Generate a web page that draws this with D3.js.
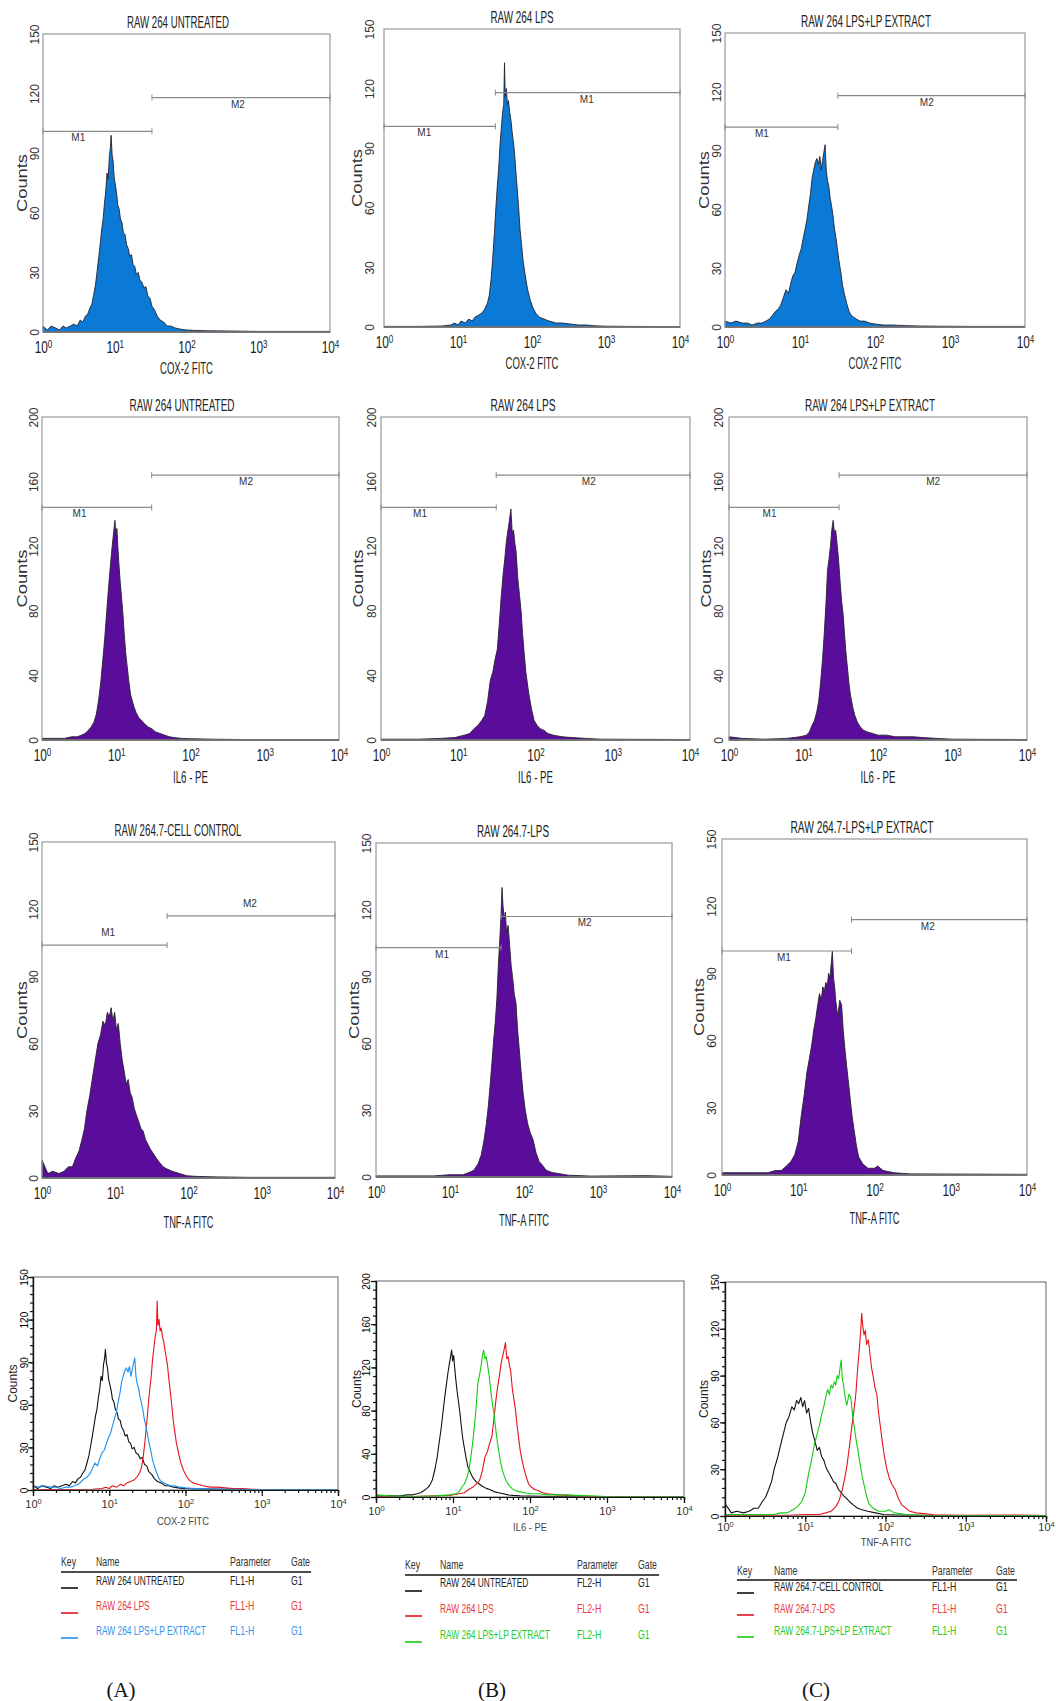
<!DOCTYPE html>
<html>
<head>
<meta charset="utf-8">
<script src="https://cdn.jsdelivr.net/npm/d3@7"></script>
<style>
body{margin:0;background:#fff}
svg{display:block}
</style>
</head>
<body>
<svg id="fig" width="1056" height="1701"></svg>
<script>
// histograms: [fluorescence, counts]
var coxUntreated=[[1,3],[1.15,1],[1.3,3],[1.5,2],[1.7,1],[1.9,3],[2.1,2],[2.4,3],[2.7,4],[3,3],[3.3,6],[3.6,5],[3.9,8],[4.2,9],[4.5,12],[4.8,14],[5.1,19],[5.4,24],[5.7,31],[6,38],[6.3,45],[6.6,52],[6.9,57],[7.2,65],[7.5,71],[7.8,80],[8.1,77],[8.4,88],[8.7,93],[8.9,99],[9.2,89],[9.5,86],[9.8,78],[10.2,74],[10.6,70],[11,64],[11.5,62],[12,57],[12.6,55],[13.2,50],[13.9,49],[14.6,44],[15.4,42],[16.2,38],[17.1,39],[18,34],[19,33],[20,29],[21.2,30],[22.5,26],[24,25],[25.5,22],[27,23],[29,18],[31,17],[33,13],[36,11],[39,8],[43,6],[48,5],[54,3],[60,3],[70,2],[80,1.5],[100,1],[130,0.8],[200,0.6],[400,0.5],[1000,0.3],[10000,0.3]];
var coxLps=[[1,0.3],[3,0.3],[6,0.5],[8,1],[9,2],[10,1],[11,3],[12.5,2],[14,4],[15.5,3],[17,5],[19,6],[21,7],[23,9],[25,12],[26.5,16],[28,24],[29.5,35],[31,47],[32.5,60],[34,71],[35.5,80],[37,92],[38.5,100],[40,108],[41.5,112],[42.5,133],[43.5,116],[45,120],[46.5,112],[48,114],[50,108],[52,104],[54,98],[56,93],[58,88],[60,80],[63,70],[66,60],[69,49],[72,42],[76,33],[81,26],[87,19],[94,14],[102,10],[112,7],[125,5],[145,4],[170,3],[210,2],[260,2],[330,1.5],[420,1],[550,1],[700,0.6],[1000,0.4],[2000,0.3],[10000,0.2]];
var coxExtract=[[1,3],[1.2,2],[1.4,3],[1.7,2],[2,2],[2.3,1],[2.7,2],[3.1,2],[3.5,3],[3.9,4],[4.3,6],[4.7,8],[5.1,9],[5.5,11],[6,15],[6.5,19],[7,17],[7.5,22],[8,26],[8.6,28],[9.2,33],[9.8,37],[10.4,40],[11,45],[11.7,50],[12.4,55],[13.1,62],[13.8,68],[14.5,76],[15.2,80],[16,84],[16.8,86],[17.6,83],[18.4,87],[19.2,80],[20,85],[20.8,89],[21.6,93],[22.4,80],[23.2,75],[24.2,72],[25.2,66],[26.3,62],[27.5,57],[28.8,50],[30,46],[31.5,40],[33,34],[35,28],[37,21],[39,17],[42,12],[45,8],[48,6],[52,5],[57,4],[63,3],[72,3],[85,2],[100,1.5],[130,1],[170,1],[250,0.7],[400,0.5],[700,0.4],[2000,0.3],[10000,0.3]];

var il6Untreated=[[1,1],[1.5,1],[2,1],[2.5,2],[3,2],[3.4,3],[3.8,4],[4.2,6],[4.6,8],[5,11],[5.4,16],[5.8,25],[6.2,36],[6.6,50],[7,63],[7.4,78],[7.8,92],[8.2,104],[8.6,115],[9,124],[9.3,130],[9.6,136],[9.9,126],[10.2,131],[10.5,120],[10.9,108],[11.3,98],[11.8,88],[12.3,78],[12.8,66],[13.4,54],[14,46],[14.8,36],[15.6,28],[16.5,24],[17.5,20],[18.5,17],[20,14],[22,12],[24,10],[27,8],[30,7],[34,5],[39,4],[45,3],[52,2],[60,1.5],[75,1],[100,0.8],[200,0.5],[500,0.3],[10000,0.3]];
var il6Lps=[[1,0.5],[3,0.5],[6,1],[9,1.5],[12,3],[14,4],[16,7],[18,9],[20,12],[22,15],[24,24],[26,37],[28,42],[30,50],[32,56],[34,72],[36,89],[38,102],[40,112],[42,123],[44,130],[46,136],[48,143],[50,128],[52,130],[54,122],[56,117],[59,100],[62,90],[65,80],[68,66],[71,55],[75,42],[79,34],[83,27],[89,19],[96,12],[105,9],[115,7],[128,6],[145,4],[170,3],[220,2],[300,1.5],[450,1],[700,0.5],[10000,0.3]];
var il6Extract=[[1,2],[1.5,1],[3,0.5],[6,1],[9,2],[11,3],[12,5],[13,9],[14,12],[15,17],[16,24],[17,36],[18,50],[19,66],[20,84],[21,105],[22,112],[23,120],[24,130],[25,136],[26,128],[27,130],[28,123],[29.5,112],[31,98],[32.5,86],[34,78],[35.5,66],[37,55],[39,44],[41,34],[43,27],[46,20],[49,15],[53,11],[58,8],[64,6],[72,5],[85,4],[100,3],[130,3],[170,2],[220,2],[300,2],[400,1.5],[600,1],[1000,0.5],[10000,0.3]];

var tnfUntreated=[[1,8],[1.2,2],[1.4,3],[1.7,2],[2,3],[2.3,5],[2.6,5],[2.9,9],[3.2,12],[3.5,17],[3.8,22],[4.1,30],[4.5,37],[4.9,45],[5.3,52],[5.8,60],[6.3,64],[6.8,70],[7.3,68],[7.8,74],[8.3,72],[8.8,76],[9.3,70],[9.8,74],[10.4,66],[11,69],[11.7,60],[12.4,53],[13.2,48],[14.1,42],[15,44],[16,38],[17,36],[18.2,31],[19.5,28],[21,25],[22.5,22],[24,21],[26,17],[28,15],[30,13],[33,11],[36,9],[40,7],[45,5],[51,4],[60,3],[75,2],[95,1],[130,0.7],[250,0.5],[600,0.3],[10000,0.3]];
var tnfLps=[[1,0.5],[3,0.5],[6,0.5],[10,1],[15,1],[18,2],[21,3],[24,6],[26.5,10],[29,17],[31,24],[33,32],[35,42],[37,52],[39,62],[41,70],[43,80],[45,95],[47,106],[49,118],[50.5,130],[52,122],[54,116],[56,119],[58,110],[61,113],[64,104],[67,95],[70,90],[74,82],[78,78],[82,66],[86,58],[91,48],[97,38],[104,30],[112,24],[121,20],[132,17],[145,11],[160,7],[180,5],[200,3],[240,2],[300,1.5],[400,0.8],[800,0.4],[4500,0.6],[10000,0.3]];
var tnfExtract=[[1,1],[2,1],[3,1],[4,1],[5,2],[6,2],[7,4],[8,6],[9,9],[10,15],[11,27],[12,36],[13,46],[14,52],[15,58],[16,65],[17,70],[18,76],[19,81],[20,78],[21,84],[22,82],[23,86],[24,84],[25,90],[26,88],[27,94],[28,100],[29,88],[30,84],[31,78],[32,74],[33,71],[35,78],[37,76],[39,64],[41,56],[43,49],[45,43],[48,34],[51,26],[54,20],[58,13],[62,8],[70,5],[82,3],[100,3],[110,4],[130,2],[180,1],[300,0.5],[10000,0.3]];

// marker gates: from / to (fluorescence), height (counts), label position
var coxGatesA=[{name:'M1',from:1,to:33,at:101,lx:3.1},{name:'M2',from:33,to:10000,at:118,lx:520}];
var coxGatesB=[{name:'M1',from:1,to:32,at:101,lx:3.5},{name:'M1',from:32,to:10000,at:118,lx:550}];
var coxGatesC=[{name:'M1',from:1,to:32,at:102,lx:3.1},{name:'M2',from:32,to:10000,at:118,lx:490}];
var il6GatesA=[{name:'M1',from:1,to:30,at:144,lx:3.2},{name:'M2',from:30,to:10000,at:164,lx:560}];
var il6GatesB=[{name:'M1',from:1,to:31,at:144,lx:3.2},{name:'M2',from:31,to:10000,at:164,lx:490}];
var il6GatesC=[{name:'M1',from:1,to:30,at:144,lx:3.5},{name:'M2',from:30,to:10000,at:164,lx:550}];
var tnfGatesA=[{name:'M1',from:1,to:51,at:104,lx:8},{name:'M2',from:51,to:10000,at:117,lx:690}];
var tnfGatesB=[{name:'M1',from:1,to:49,at:103,lx:7.8},{name:'M2',from:49,to:10000,at:117,lx:660}];
var tnfGatesC=[{name:'M1',from:1,to:50,at:100,lx:6.5},{name:'M2',from:50,to:10000,at:114,lx:500}];

var decades=[1,10,100,1000,10000];
var ticks150=[0,30,60,90,120,150];
var ticks200=[0,40,80,120,160,200];

var namesA=['RAW 264 UNTREATED','RAW 264 LPS','RAW 264 LPS+LP EXTRACT'];
var namesB=['RAW 264 UNTREATED','RAW 264 LPS','RAW 264 LPS+LP EXTRACT'];
var namesC=['RAW 264.7-CELL CONTROL','RAW 264.7-LPS','RAW 264.7-LPS+LP EXTRACT'];
var paramsA=['FL1-H','FL1-H','FL1-H'];
var paramsB=['FL2-H','FL2-H','FL2-H'];
var paramsC=['FL1-H','FL1-H','FL1-H'];
var gatesCol=['G1','G1','G1'];

var NARROW='"Liberation Sans Narrow","Arial Narrow","Liberation Sans",Arial,sans-serif';
var SANS='"Liberation Sans",Arial,sans-serif';
var SERIF='"Liberation Serif","Times New Roman",serif';
var BLUE='#0b79d6', PURPLE='#5a0c9a';
var K='#111111', RED='#e3141c', LBLUE='#1e8ff2', GREEN='#14cc14';
var TRED='#e8363e', TBLUE='#3593ef', TGREEN='#22cc22';

var svg=d3.select('#fig');

var histPanels=[
  {title:'RAW 264 UNTREATED',tw:102,tx:178,data:coxUntreated,gates:coxGatesA,ymax:150,yt:ticks150,xl:'COX-2 FITC',xw:53,xb:42,fill:BLUE,box:[43,34,330,332],yo:8,co:21},
  {title:'RAW 264 LPS',tw:63,tx:522,data:coxLps,gates:coxGatesB,ymax:150,yt:ticks150,xl:'COX-2 FITC',xw:53,xb:42,fill:BLUE,box:[384,29,680,327],yo:14,co:27},
  {title:'RAW 264 LPS+LP EXTRACT',tw:130,tx:866,data:coxExtract,gates:coxGatesC,ymax:150,yt:ticks150,xl:'COX-2 FITC',xw:53,xb:42,fill:BLUE,box:[725,33,1025,327],yo:8,co:21},
  {title:'RAW 264 UNTREATED',tw:105,tx:182,data:il6Untreated,gates:il6GatesA,ymax:200,yt:ticks200,xl:'IL6 - PE',xw:35,xb:43,fill:PURPLE,box:[42,417,339,740],yo:8,co:20},
  {title:'RAW 264 LPS',tw:65,tx:523,data:il6Lps,gates:il6GatesB,ymax:200,yt:ticks200,xl:'IL6 - PE',xw:35,xb:43,fill:PURPLE,box:[381,417,690,740],yo:9,co:23},
  {title:'RAW 264 LPS+LP EXTRACT',tw:130,tx:870,data:il6Extract,gates:il6GatesC,ymax:200,yt:ticks200,xl:'IL6 - PE',xw:35,xb:43,fill:PURPLE,box:[729,417,1027,740],yo:10,co:23},
  {title:'RAW 264.7-CELL CONTROL',tw:127,tx:178,data:tnfUntreated,gates:tnfGatesA,ymax:150,yt:ticks150,xl:'TNF-A FITC',xw:50,xb:50,fill:PURPLE,box:[42,842,335,1178],yo:8,co:20,above:true},
  {title:'RAW 264.7-LPS',tw:72,tx:513,data:tnfLps,gates:tnfGatesB,ymax:150,yt:ticks150,xl:'TNF-A FITC',xw:50,xb:49,fill:PURPLE,box:[376,843,672,1177],yo:9,co:22},
  {title:'RAW 264.7-LPS+LP EXTRACT',tw:143,tx:862,data:tnfExtract,gates:tnfGatesC,ymax:150,yt:ticks150,xl:'TNF-A FITC',xw:50,xb:49,fill:PURPLE,box:[722,839,1027,1175],yo:10,co:23}
];

var overlayPanels=[
  {series:[coxUntreated,coxLps,coxExtract],colors:[K,RED,LBLUE],ymax:150,major:30,minor:6,xl:'COX-2 FITC',xlx:183,xb:35,tb:18,box:[33,1277,338,1490],yo:9,co:20},
  {series:[il6Untreated,il6Lps,il6Extract],colors:[K,RED,GREEN],ymax:200,major:40,minor:8,xl:'IL6 - PE',xlx:530,xb:34,tb:18,box:[376,1281,684,1497],yo:10,co:19},
  {series:[tnfUntreated,tnfLps,tnfExtract],colors:[K,RED,GREEN],ymax:150,major:30,minor:6,xl:'TNF-A FITC',xlx:886,xb:30,tb:15,box:[725,1282,1046,1516],yo:10,co:21}
];

var legends=[
  {names:namesA,params:paramsA,lines:[K,RED,LBLUE],texts:['#222',TRED,TBLUE],cols:[61,96,230,291],hy:1566,uy:1572,ux:311,rows:[1585,1610,1635],keys:[1588,1613,1638],lab:'(A)',lx:121},
  {names:namesB,params:paramsB,lines:[K,RED,GREEN],texts:['#222',TRED,TGREEN],cols:[405,440,577,638],hy:1569,uy:1575,ux:659,rows:[1587,1613,1639],keys:[1591,1616,1642],lab:'(B)',lx:492},
  {names:namesC,params:paramsC,lines:[K,RED,GREEN],texts:['#222',TRED,TGREEN],cols:[737,774,932,996],hy:1575,uy:1580,ux:1017,rows:[1591,1613,1635],keys:[1593,1615,1637],lab:'(C)',lx:816}
];

// squeeze a text horizontally, like the condensed face of the original
function condense(sel,f){
  sel.each(function(){
    var w=this.getComputedTextLength();
    d3.select(this).attr('textLength',w*f).attr('lengthAdjust','spacingAndGlyphs');
  });
}

// condensed text placed with a transform (start anchored)
function narrowText(g,x,y,str,fill,f){
  return g.append('text').attr('x',0).attr('y',0)
    .attr('transform','translate('+x+','+y+') scale('+f+',1)')
    .attr('fill',fill).text(str);
}

// 10 with superscript exponent
function powLabels(sel,size){
  sel.each(function(d){
    var t=d3.select(this).text('');
    t.append('tspan').text('10');
    t.append('tspan').attr('dy','-0.5em').attr('font-size',size*0.68).text(Math.round(Math.log10(d)));
  });
}

function rotLabels(ax,off){
  ax.selectAll('text').attr('x',0).attr('y',0).attr('dy','0.35em')
    .attr('text-anchor','middle')
    .attr('transform','translate('+(-off)+',0) rotate(-90)');
}

function drawHist(p){
  var x0=p.box[0],y0=p.box[1],x1=p.box[2],y1=p.box[3];
  var x=d3.scaleLog().domain([1,10000]).range([x0,x1]);
  var y=d3.scaleLinear().domain([0,p.ymax]).range([y1,y0]);
  var g=svg.append('g');

  g.append('path').datum(p.data)
    .attr('d',d3.area().x(function(d){return x(d[0]);}).y0(y1).y1(function(d){return y(d[1]);}))
    .attr('fill',p.fill).attr('stroke','#26222e').attr('stroke-width',0.9).attr('stroke-linejoin','round');

  g.append('rect').attr('x',x0).attr('y',y0).attr('width',x1-x0).attr('height',y1-y0)
    .attr('fill','none').attr('stroke','#a0a0a0').attr('stroke-width',1.3);
  g.append('line').attr('x1',x0).attr('x2',x1).attr('y1',y1).attr('y2',y1)
    .attr('stroke','#6a6a6a').attr('stroke-width',1.5);

  p.gates.forEach(function(m){
    var gy=y(m.at),a=x(m.from),c=x(m.to);
    g.append('line').attr('x1',a).attr('x2',c).attr('y1',gy).attr('y2',gy).attr('stroke','#8a8a8a').attr('stroke-width',1.2);
    [a,c].forEach(function(e){
      g.append('line').attr('x1',e).attr('x2',e).attr('y1',gy-3).attr('y2',gy+3).attr('stroke','#8a8a8a').attr('stroke-width',1);
    });
    g.append('text').attr('x',x(m.lx)).attr('y',p.above?gy-9:gy+10)
      .attr('text-anchor','middle').attr('font-family',SANS).attr('font-size',10).attr('fill','#333').text(m.name);
  });

  g.append('text').attr('x',p.tx).attr('y',y0-6).attr('text-anchor','middle')
    .attr('font-family',NARROW).attr('font-size',16).attr('fill','#222')
    .attr('textLength',p.tw).attr('lengthAdjust','spacingAndGlyphs').text(p.title);

  var ya=g.append('g').attr('transform','translate('+x0+',0)')
    .call(d3.axisLeft(y).tickValues(p.yt).tickSize(0).tickFormat(d3.format('d')));
  ya.select('.domain').remove();
  ya.attr('font-family',SANS).attr('font-size',12);
  ya.selectAll('text').attr('fill','#333');
  rotLabels(ya,p.yo);

  g.append('text').attr('transform','translate('+(x0-p.co)+','+((y0+y1)/2)+') rotate(-90)')
    .attr('dy','0.35em').attr('text-anchor','middle').attr('font-family',SANS).attr('font-size',14)
    .attr('fill','#333').attr('textLength',58).attr('lengthAdjust','spacingAndGlyphs').text('Counts');

  var xa=g.append('g').attr('transform','translate(0,'+y1+')')
    .call(d3.axisBottom(x).tickValues(decades).tickSize(0));
  xa.select('.domain').remove();
  xa.attr('font-family',NARROW).attr('font-size',16);
  xa.selectAll('text').attr('y',21).attr('dy',0).attr('fill','#222')
    .attr('transform','scale(0.74,1)').call(powLabels,16);

  g.append('text').attr('x',(x0+x1)/2).attr('y',y1+p.xb).attr('text-anchor','middle')
    .attr('font-family',NARROW).attr('font-size',16).attr('fill','#222')
    .attr('textLength',p.xw).attr('lengthAdjust','spacingAndGlyphs').text(p.xl);
}

function drawOverlay(p){
  var x0=p.box[0],y0=p.box[1],x1=p.box[2],y1=p.box[3];
  var x=d3.scaleLog().domain([1,10000]).range([x0,x1]);
  var y=d3.scaleLinear().domain([0,p.ymax]).range([y1,y0]);
  var g=svg.append('g');
  var line=d3.line().x(function(d){return x(d[0]);}).y(function(d){return y(d[1]);});

  p.series.forEach(function(s,i){
    g.append('path').datum(s).attr('d',line).attr('fill','none')
      .attr('stroke',p.colors[i]).attr('stroke-width',1.1).attr('stroke-linejoin','round');
  });

  g.append('rect').attr('x',x0).attr('y',y0).attr('width',x1-x0).attr('height',y1-y0)
    .attr('fill','none').attr('stroke','#666').attr('stroke-width',1);

  var yMinor=g.append('g').attr('transform','translate('+x0+',0)')
    .call(d3.axisLeft(y).tickValues(d3.range(0,p.ymax+1,p.minor)).tickSize(3).tickFormat(''));
  var yMajor=g.append('g').attr('transform','translate('+x0+',0)')
    .call(d3.axisLeft(y).tickValues(d3.range(0,p.ymax+1,p.major)).tickSize(5).tickFormat(d3.format('d')));
  yMajor.attr('font-family',SANS).attr('font-size',10);
  rotLabels(yMajor,p.yo);
  [yMinor,yMajor].forEach(function(a){a.selectAll('line,path').attr('stroke','#111').attr('stroke-width',1.2);});

  var xMinor=g.append('g').attr('transform','translate(0,'+y1+')')
    .call(d3.axisBottom(x).tickValues(x.ticks()).tickSize(3).tickFormat(''));
  var xMajor=g.append('g').attr('transform','translate(0,'+y1+')')
    .call(d3.axisBottom(x).tickValues(decades).tickSize(6));
  xMajor.attr('font-family',SANS).attr('font-size',11);
  xMajor.selectAll('text').attr('y',p.tb).attr('dy',0).attr('fill','#333').call(powLabels,11);
  [xMinor,xMajor].forEach(function(a){a.selectAll('line,path').attr('stroke','#111').attr('stroke-width',1.2);});

  g.append('text').attr('transform','translate('+(x0-p.co)+','+((y0+y1)/2)+') rotate(-90)')
    .attr('dy','0.35em').attr('text-anchor','middle').attr('font-family',SANS).attr('font-size',12)
    .attr('fill','#222').text('Counts');

  g.append('text').attr('x',p.xlx).attr('y',y1+p.xb).attr('text-anchor','middle')
    .attr('font-family',NARROW).attr('font-size',11).attr('fill','#444').text(p.xl).call(condense,0.85);
}

function drawLegend(L){
  var g=svg.append('g').attr('font-family',NARROW).attr('font-size',12.5);
  ['Key','Name','Parameter','Gate'].forEach(function(h,i){
    narrowText(g,L.cols[i],L.hy,h,'#333',0.7);
  });
  g.append('line').attr('x1',L.cols[0]).attr('x2',L.ux).attr('y1',L.uy).attr('y2',L.uy)
    .attr('stroke','#111').attr('stroke-width',1.6);
  L.names.forEach(function(n,i){
    g.append('line').attr('x1',L.cols[0]).attr('x2',L.cols[0]+17).attr('y1',L.keys[i]).attr('y2',L.keys[i])
      .attr('stroke',L.lines[i]).attr('stroke-width',1.6);
    narrowText(g,L.cols[1],L.rows[i],n,L.texts[i],0.67);
    narrowText(g,L.cols[2],L.rows[i],L.params[i],L.texts[i],0.7);
    narrowText(g,L.cols[3],L.rows[i],gatesCol[i],L.texts[i],0.7);
  });
  svg.append('text').attr('x',L.lx).attr('y',1697).attr('text-anchor','middle')
    .attr('font-family',SERIF).attr('font-size',21).attr('fill','#111').text(L.lab);
}

histPanels.forEach(drawHist);
overlayPanels.forEach(drawOverlay);
legends.forEach(drawLegend);
</script>
</body>
</html>
